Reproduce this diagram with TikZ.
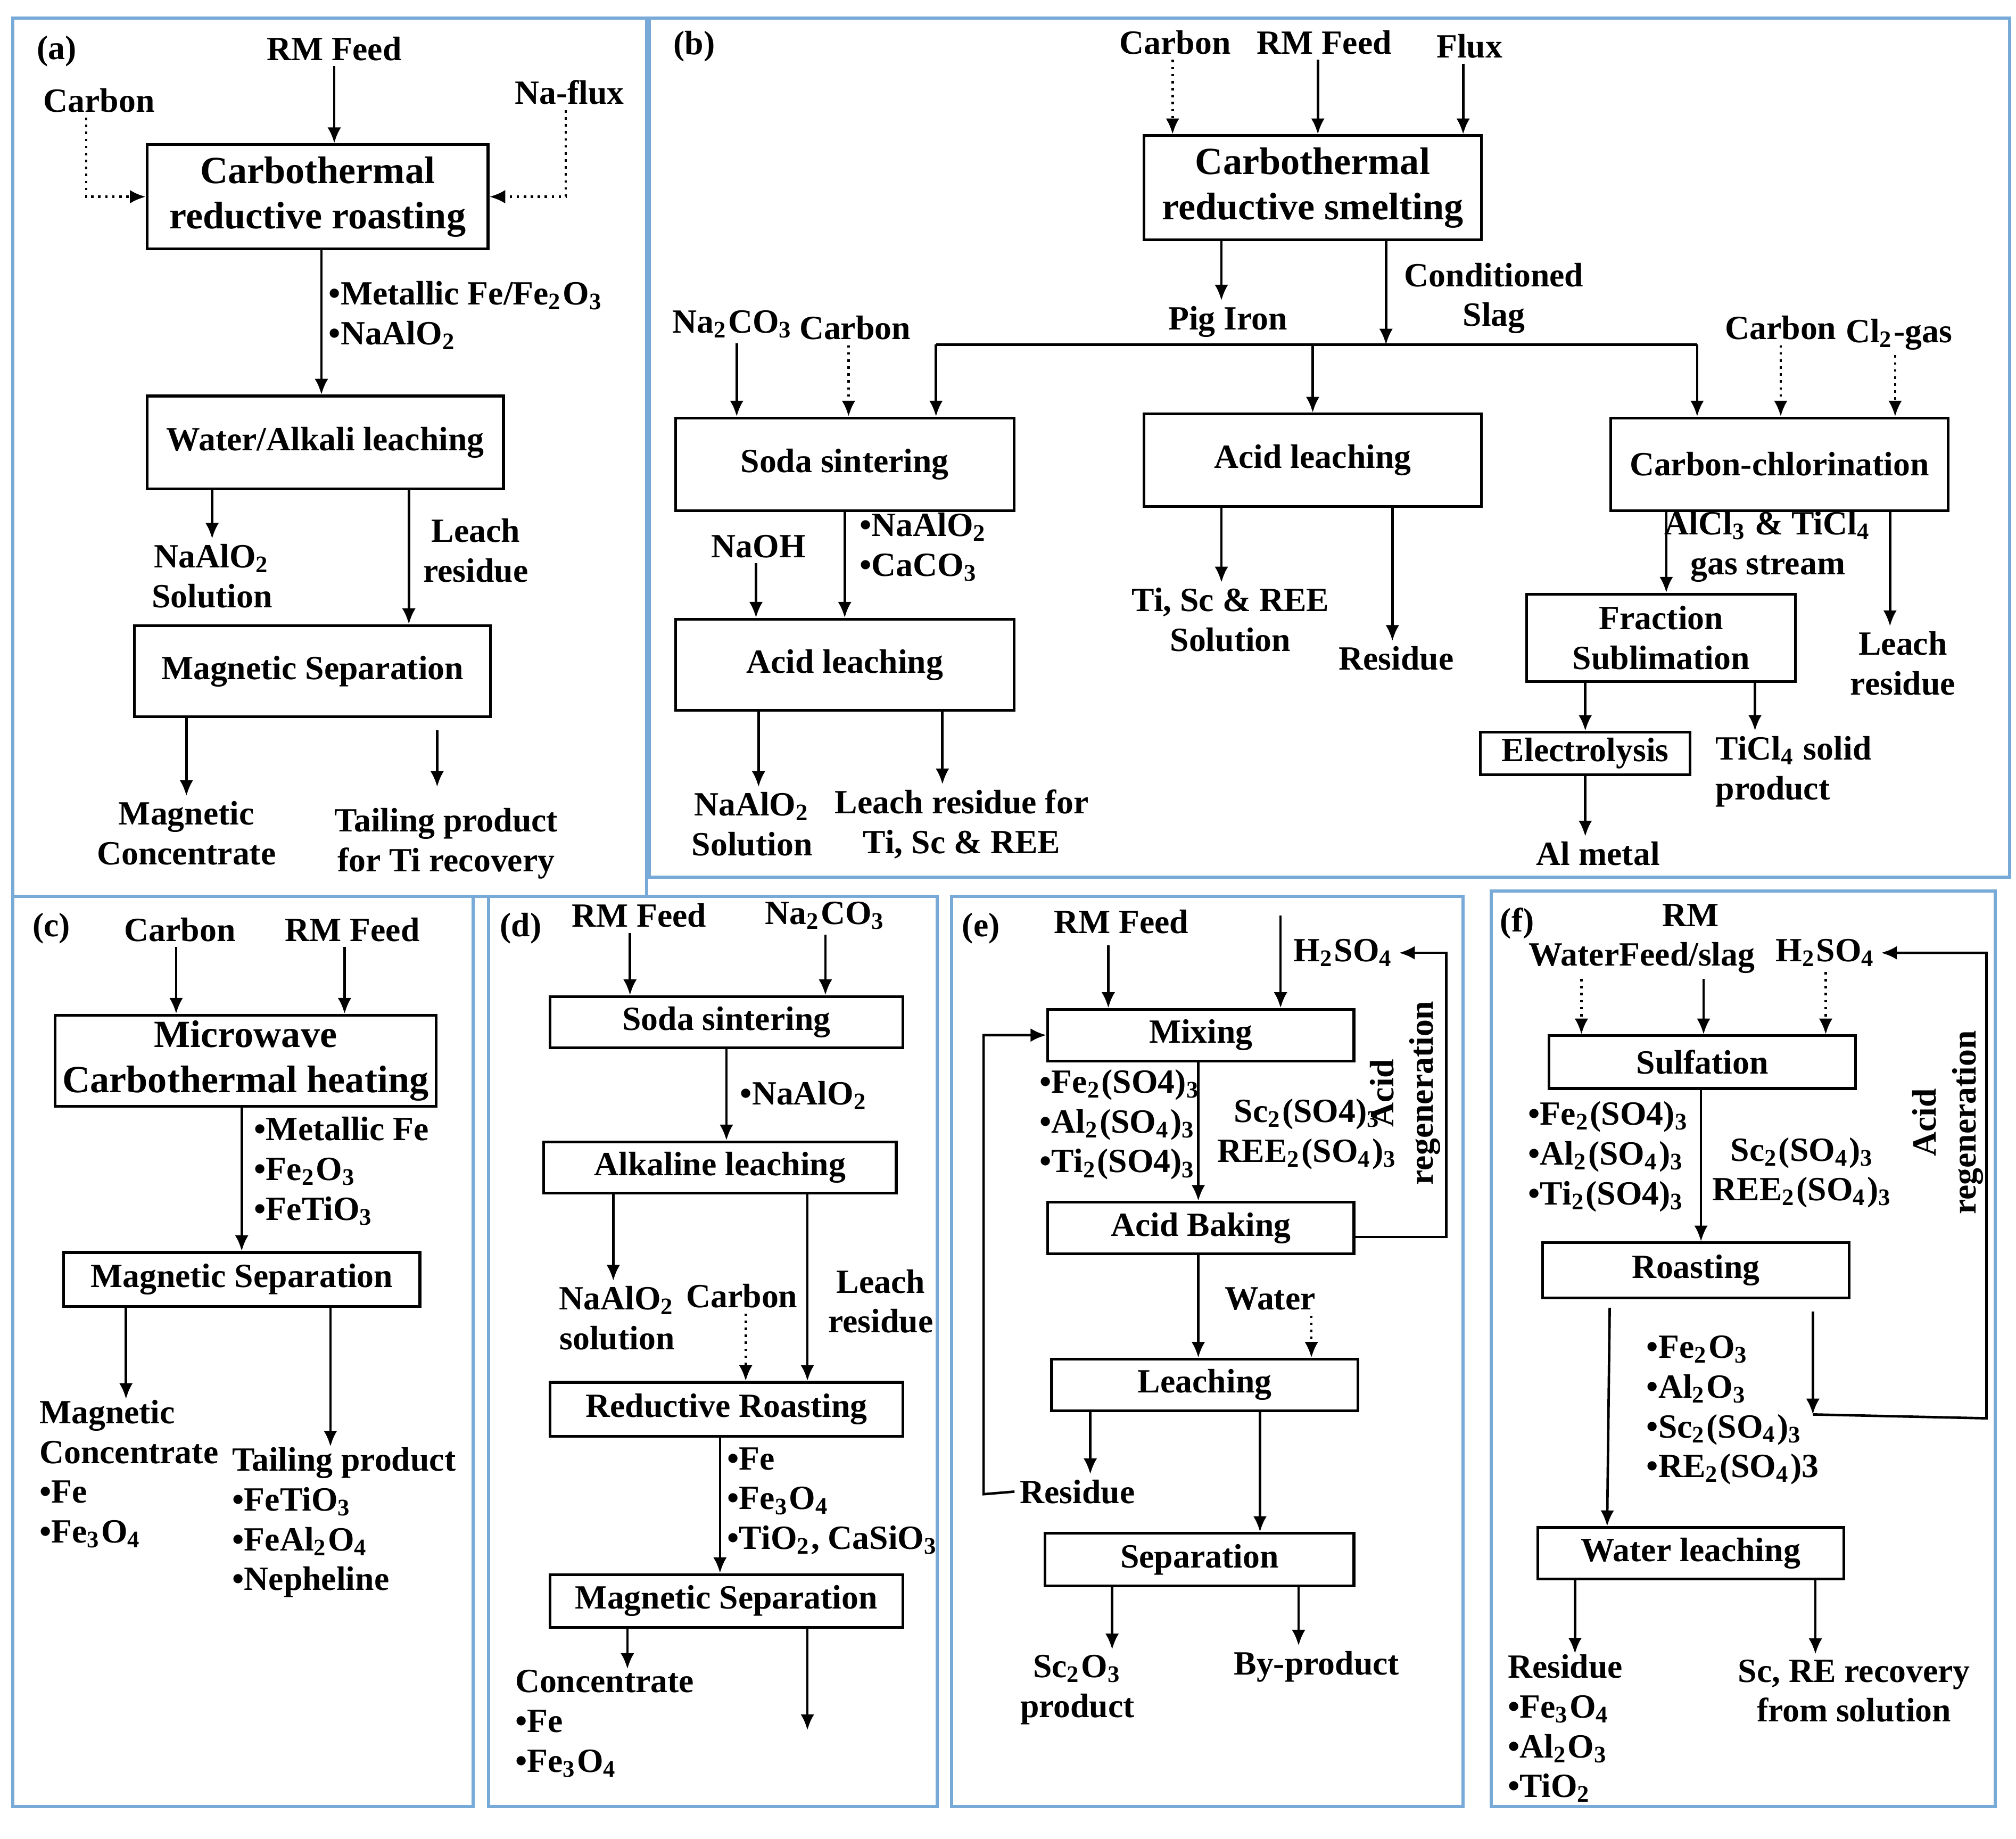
\documentclass[tikz,border=0pt]{standalone}
\usepackage{fontspec}
\setmainfont{Liberation Serif}
\usetikzlibrary{arrows.meta,positioning,calc}
\definecolor{framecol}{RGB}{120,170,215}
\newcommand{\sbs}[1]{\textsubscript{#1}}

\begin{document}
\begin{tikzpicture}[x=0.01cm,y=-0.01cm,
  panel/.style={draw=framecol, line width=0.7pt},
  box/.style={draw, line width=0.6pt, inner sep=0, align=center, font=\fontsize{7.5}{8.8}\selectfont\bfseries},
  bigbox/.style={box, font=\fontsize{8.5}{10}\selectfont\bfseries},
  lbl/.style={align=center, inner sep=1pt, font=\fontsize{7.5}{8.8}\selectfont\bfseries},
  lst/.style={lbl, align=left, anchor=north west, inner sep=0},
  arr/.style={-{Latex[length=3.5pt,width=3pt]}, line width=0.55pt},
  darr/.style={arr, densely dotted},
  plain/.style={line width=0.55pt}]
\useasboundingbox (0,0) rectangle (1568,1430);

% PANELS

\draw[panel] (10,14) rectangle (503,697);
\draw[panel] (505,14) rectangle (1563,682);
\draw[panel] (10,697) rectangle (368,1405);
\draw[panel] (380,697) rectangle (729,1405);
\draw[panel] (740,697) rectangle (1138,1405);
\draw[panel] (1160,693) rectangle (1552,1405);

% (a)

\node[lbl] (aTag) at (44,40) {(a)};
\node[lbl] (aFeed) at (260,38) {RM Feed};
\node[lbl] (aCarbon) at (77,78) {Carbon};
\node[lbl] (aFlux) at (443,72) {Na-flux};
\node[bigbox, minimum width=2.65cm, minimum height=0.81cm] (aRR) at (247,153) {Carbothermal\\reductive roasting};
\node[box, minimum width=2.77cm, minimum height=0.72cm] (aWL) at (253,344) {Water/Alkali leaching};
\node[box, minimum width=2.77cm, minimum height=0.71cm] (aMS) at (243,522) {Magnetic Separation};
\node[lst] (aList) at (255,218) {•Metallic Fe/Fe\sbs{2}O\sbs{3}\\•NaAlO\sbs{2}};
\node[lbl] (aSol) at (165,448) {NaAlO\sbs{2}\\Solution};
\node[lbl] (aRes) at (370,428) {Leach\\residue};
\node[lbl] (aConc) at (145,648) {Magnetic\\Concentrate};
\node[lbl] (aTail) at (347,656) {Tailing product\\for Ti recovery};
\coordinate (aT) at (340,568);

\draw[arr] (aFeed) -- (aRR.north -| aFeed);
\draw[darr] (aCarbon.south -| 67,0) |- (aRR.west);
\draw[darr] (aFlux.south -| 440,0) |- (aRR.east);
\draw[arr] (250,0 |- aRR.south) -- (250,0 |- aWL.north);
\draw[arr] (aWL.south -| aSol) -- (aSol);
\draw[arr] (318,0 |- aWL.south) -- (318,0 |- aMS.north);
\draw[arr] (aMS.south -| aConc) -- (aConc);
\draw[arr] (aT) -- ++(0,44);

% (b)

\node[lbl] (bTag) at (540,36) {(b)};
\node[lbl] (bCarbon) at (914,33) {Carbon};
\node[lbl] (bFeed) at (1030,33) {RM Feed};
\node[lbl] (bFlux) at (1143,36) {Flux};
\node[bigbox, minimum width=2.62cm, minimum height=0.81cm] (bCRS) at (1021,146) {Carbothermal\\reductive smelting};
\node[lbl] (bPig) at (955,250) {Pig Iron};
\node[lbl] (bSlag) at (1162,232) {Conditioned\\Slag};
\node[lbl] (bSoda) at (570,252) {Na\sbs{2}CO\sbs{3}};
\node[lbl] (bCarbon2) at (665,255) {Carbon};
\node[lbl] (bCarbon3) at (1385,255) {Carbon};
\node[lbl] (bCl) at (1477,260) {Cl\sbs{2}-gas};
\node[box, minimum width=2.63cm, minimum height=0.72cm] (bSS) at (657,361) {Soda sintering};
\node[box, minimum width=2.62cm, minimum height=0.72cm] (bAL) at (1021,358) {Acid leaching};
\node[box, minimum width=2.62cm, minimum height=0.72cm] (bCC) at (1384,361) {Carbon-chlorination};
\node[lbl] (bNaOH) at (590,425) {NaOH};
\node[lst] (bList) at (668,398) {•NaAlO\sbs{2}\\•CaCO\sbs{3}};
\node[box, minimum width=2.63cm, minimum height=0.71cm] (bAL2) at (657,517) {Acid leaching};
\node[lbl] (bSol) at (585,641) {NaAlO\sbs{2}\\Solution};
\node[lbl] (bLR) at (748,641) {Leach residue for\\Ti, Sc \& REE};
\node[lbl] (bTi) at (957,482) {Ti, Sc \& REE\\Solution};
\node[lbl] (bRes) at (1086,512) {Residue};
\node[lbl] (bGas) at (1375,425) {AlCl\sbs{3} \& TiCl\sbs{4}\\gas stream};
\node[lbl] (bLeach) at (1480,516) {Leach\\residue};
\node[box, minimum width=2.09cm, minimum height=0.68cm] (bFS) at (1292,496) {Fraction\\Sublimation};
\node[box, minimum width=1.63cm, minimum height=0.33cm] (bEl) at (1233,586) {Electrolysis};
\node[lbl, align=left] (bTiCl) at (1395,600) {TiCl\sbs{4} solid\\product};
\node[lbl] (bAl) at (1243,664) {Al metal};
\coordinate (bJ) at (1078,268);
\coordinate (bL) at (728,268);
\coordinate (bR) at (1320,268);

\draw[darr] (912,0 |- bCarbon.south) -- (912,0 |- bCRS.north);
\draw[arr] (1025,0 |- bFeed.south) -- (1025,0 |- bCRS.north);
\draw[arr] (1138,0 |- bFlux.south) -- (1138,0 |- bCRS.north);
\draw[arr] (950,0 |- bCRS.south) -- (950,0 |- bPig.north);
\draw[arr] (bCRS.south -| bJ) -- (bJ);
\draw[plain] (bL) -- (bR);
\draw[arr] (bL) -- (bSS.north -| bL);
\draw[arr] (bJ -| bAL) -- (bAL.north);
\draw[arr] (bR) -- (bCC.north -| bR);
\draw[arr] (573,0 |- bSoda.south) -- (573,0 |- bSS.north);
\draw[darr] (660,0 |- bCarbon2.south) -- (660,0 |- bSS.north);
\draw[darr] (bCarbon3.south) -- (bCC.north -| bCarbon3);
\draw[darr] (1474,0 |- bCl.south) -- (1474,0 |- bCC.north);
\draw[arr] (bNaOH.south -| 588,0) -- (588,0 |- bAL2.north);
\draw[arr] (bSS.south) -- (bAL2.north);
\draw[arr] (590,0 |- bAL2.south) -- (590,0 |- bSol.north);
\draw[arr] (733,0 |- bAL2.south) -- (733,0 |- bLR.north);
\draw[arr] (950,0 |- bAL.south) -- (950,0 |- bTi.north);
\draw[arr] (1083,0 |- bAL.south) -- (1083,0 |- bRes.north);
\draw[arr] (1296,0 |- bCC.south) -- (1296,0 |- bFS.north);
\draw[arr] (1470,0 |- bCC.south) -- (1470,0 |- bLeach.north);
\draw[arr] (bFS.south -| bEl) -- (bEl.north);
\draw[arr] (1365,0 |- bFS.south) -- (1365,0 |- bTiCl.north);
\draw[arr] (bEl.south) -- (bAl.north -| bEl);

% (c)

\node[lbl] (cTag) at (40,722) {(c)};
\node[lbl] (cCarbon) at (140,723) {Carbon};
\node[lbl] (cFeed) at (274,723) {RM Feed};
\node[bigbox, minimum width=2.96cm, minimum height=0.71cm] (cMC) at (191,825) {Microwave\\Carbothermal heating};
\node[lst] (cList) at (197,868) {•Metallic Fe\\•Fe\sbs{2}O\sbs{3}\\•FeTiO\sbs{3}};
\node[box, minimum width=2.77cm, minimum height=0.42cm] (cMS) at (188,995) {Magnetic Separation};
\node[lst] (cConc) at (30,1088) {Magnetic\\Concentrate\\•Fe\\•Fe\sbs{3}O\sbs{4}};
\node[lst] (cTail) at (180,1125) {Tailing product\\•FeTiO\sbs{3}\\•FeAl\sbs{2}O\sbs{4}\\•Nepheline};

\draw[arr] (137,0 |- cCarbon.south) -- (137,0 |- cMC.north);
\draw[arr] (268,0 |- cFeed.south) -- (268,0 |- cMC.north);
\draw[arr] (188,0 |- cMC.south) -- (188,0 |- cMS.north);
\draw[arr] (98,0 |- cMS.south) -- (98,0 |- cConc.north);
\draw[arr] (257,0 |- cMS.south) -- (257,0 |- cTail.north);

% (d)

\node[lbl] (dTag) at (405,722) {(d)};
\node[lbl] (dFeed) at (497,712) {RM Feed};
\node[lbl] (dSoda) at (642,712) {Na\sbs{2}CO\sbs{3}};
\node[box, minimum width=2.74cm, minimum height=0.40cm] (dSS) at (565,795) {Soda sintering};
\node[lst] (dNa) at (575,840) {•NaAlO\sbs{2}};
\node[box, minimum width=2.74cm, minimum height=0.40cm] (dAL) at (560,908) {Alkaline leaching};
\node[lbl] (dSol) at (480,1025) {NaAlO\sbs{2}\\solution};
\node[lbl] (dCarbon) at (577,1008) {Carbon};
\node[lbl] (dRes) at (685,1012) {Leach\\residue};
\node[box, minimum width=2.74cm, minimum height=0.42cm] (dRR) at (565,1096) {Reductive Roasting};
\node[lst] (dList) at (565,1125) {•Fe\\•Fe\sbs{3}O\sbs{4}\\•TiO\sbs{2}, CaSiO\sbs{3}};
\node[box, minimum width=2.74cm, minimum height=0.41cm] (dMS) at (565,1245) {Magnetic Separation};
\node[lst] (dConc) at (400,1298) {Concentrate\\•Fe\\•Fe\sbs{3}O\sbs{4}};

\draw[arr] (490,0 |- dFeed.south) -- (490,0 |- dSS.north);
\draw[arr] (dSoda.south) -- (dSS.north -| dSoda);
\draw[arr] (dSS.south) -- (dAL.north -| dSS);
\draw[arr] (477,0 |- dAL.south) -- (477,0 |- dSol.north);
\draw[arr] (628,0 |- dAL.south) -- (628,0 |- dRR.north);
\draw[darr] (580,0 |- dCarbon.south) -- (580,0 |- dRR.north);
\draw[arr] (560,0 |- dRR.south) -- (560,0 |- dMS.north);
\draw[arr] (488,0 |- dMS.south) -- (488,0 |- dConc.north);
\draw[arr] (628,0 |- dMS.south) -- ++(0,79);

% (e)

\node[lbl] (eTag) at (763,722) {(e)};
\node[lbl] (eFeed) at (872,717) {RM Feed};
\node[lbl] (eAcid) at (1045,741) {H\sbs{2}SO\sbs{4}};
\node[box, minimum width=2.38cm, minimum height=0.40cm] (eMix) at (934,805) {Mixing};
\node[lst] (eList) at (808,831) {•Fe\sbs{2}(SO4)\sbs{3}\\•Al\sbs{2}(SO\sbs{4})\sbs{3}\\•Ti\sbs{2}(SO4)\sbs{3}};
\node[lbl] (eSc) at (1017,882) {Sc\sbs{2}(SO4)\sbs{3}\\REE\sbs{2}(SO\sbs{4})\sbs{3}};
\node[lbl, rotate=90] (eRegen) at (1093,850) {Acid\\regeneration};
\node[box, minimum width=2.38cm, minimum height=0.40cm] (eAB) at (934,955) {Acid Baking};
\node[lbl] (eWater) at (988,1010) {Water};
\node[box, minimum width=2.38cm, minimum height=0.40cm] (eLe) at (937,1077) {Leaching};
\node[lbl] (eRes) at (838,1160) {Residue};
\node[box, minimum width=2.40cm, minimum height=0.41cm] (eSep) at (933,1213) {Separation};
\node[lbl] (eSc2) at (838,1314) {Sc\sbs{2}O\sbs{3}\\product};
\node[lbl] (eBy) at (1024,1296) {By-product};
\coordinate (eLoop) at (765,1162);
\coordinate (eTop) at (1125,741);

\draw[arr] (862,735) -- (862,0 |- eMix.north);
\draw[arr] (996,712) -- (996,0 |- eMix.north);
\draw[arr] (932,0 |- eMix.south) -- (932,0 |- eAB.north);
\draw[arr] (eAB.east |- 0,962) -| (eTop) -- (eAcid.east);
\draw[arr] (932,0 |- eAB.south) -- (932,0 |- eLe.north);
\draw[darr] (1020,0 |- eWater.south) -- (1020,0 |- eLe.north);
\draw[arr] (848,0 |- eLe.south) -- (848,0 |- eRes.north);
\draw[arr] (eRes.west) -- (eLoop) |- (eMix.west);
\draw[arr] (980,0 |- eLe.south) -- (980,0 |- eSep.north);
\draw[arr] (865,0 |- eSep.south) -- (865,0 |- eSc2.north);
\draw[arr] (1010,0 |- eSep.south) -- (1010,0 |- eBy.north);

% (f)

\node[lbl] (fTag) at (1180,718) {(f)};
\node[lbl] (fRM) at (1315,712) {RM};
\node[lbl] (fWater) at (1277,745) {WaterFeed/slag};
\node[lbl] (fAcid) at (1420,741) {H\sbs{2}SO\sbs{4}};
\node[box, minimum width=2.38cm, minimum height=0.41cm] (fSul) at (1324,826) {Sulfation};
\node[lst] (fList) at (1188,856) {•Fe\sbs{2}(SO4)\sbs{3}\\•Al\sbs{2}(SO\sbs{4})\sbs{3}\\•Ti\sbs{2}(SO4)\sbs{3}};
\node[lbl] (fSc) at (1402,912) {Sc\sbs{2}(SO\sbs{4})\sbs{3}\\REE\sbs{2}(SO\sbs{4})\sbs{3}};
\node[lbl, rotate=90] (fRegen) at (1515,873) {Acid\\regeneration};
\node[box, minimum width=2.38cm, minimum height=0.43cm] (fRo) at (1319,988) {Roasting};
\node[lst] (fList2) at (1280,1038) {•Fe\sbs{2}O\sbs{3}\\•Al\sbs{2}O\sbs{3}\\•Sc\sbs{2}(SO\sbs{4})\sbs{3}\\•RE\sbs{2}(SO\sbs{4})3};
\node[box, minimum width=2.38cm, minimum height=0.40cm] (fWL) at (1315,1208) {Water leaching};
\node[lst] (fRes) at (1172,1286) {Residue\\•Fe\sbs{3}O\sbs{4}\\•Al\sbs{2}O\sbs{3}\\•TiO\sbs{2}};
\node[lbl] (fRec) at (1442,1315) {Sc, RE recovery\\from solution};
\coordinate (fTurn) at (1410,1100);
\coordinate (fTop) at (1545,741);

\draw[darr] (1230,0 |- fWater.south) -- (1230,0 |- fSul.north);
\draw[arr] (1325,0 |- fWater.south) -- (1325,0 |- fSul.north);
\draw[darr] (1420,0 |- fAcid.south) -- (1420,0 |- fSul.north);
\draw[arr] (1323,0 |- fSul.south) -- (1323,0 |- fRo.north);
\draw[arr] (1252,1017) -- (1250,0 |- fWL.north);
\draw[arr] (1410,1020) -- (fTurn);
\draw[arr] (fTurn) -- (1545,1103) -- (fTop) -- (fAcid.east);
\draw[arr] (1225,0 |- fWL.south) -- (1225,0 |- fRes.north);
\draw[arr] (1412,0 |- fWL.south) -- (1412,0 |- fRec.north);

\end{tikzpicture}
\end{document}
